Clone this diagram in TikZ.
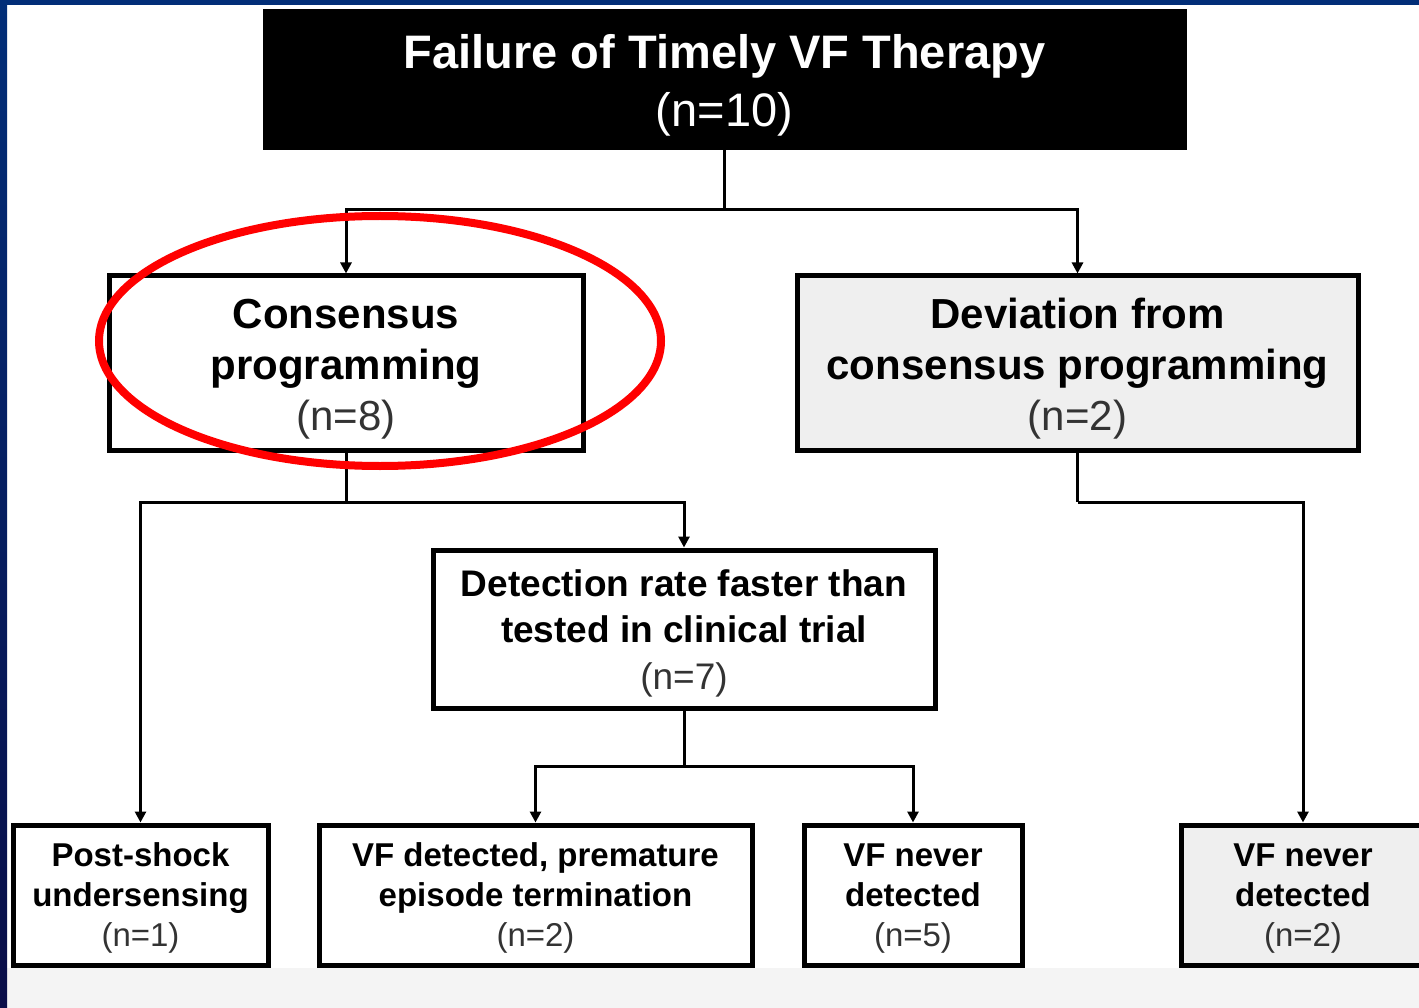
\documentclass[tikz,border=0pt]{standalone}
\usepackage{fontspec}
\setmainfont{Liberation Sans}
\usetikzlibrary{arrows.meta}
\definecolor{navy}{RGB}{2,46,120}
\definecolor{navydark}{RGB}{10,14,72}
\definecolor{boxgrey}{RGB}{239,239,239}
\definecolor{stripgrey}{RGB}{244,244,244}
\definecolor{ringred}{RGB}{255,0,0}
\newcommand\topstrut[1]{\rule{0pt}{#1pt}}
\begin{document}
\begin{tikzpicture}[x=1pt,y=-1pt,
  box/.style={draw=black,line width=5pt,fill=white,inner sep=0pt,align=center,text=black},
  greybox/.style={box,fill=boxgrey},
  fbig/.style={font=\fontsize{42}{51}\selectfont},
  fmid/.style={font=\fontsize{37}{46.5}\selectfont},
  fsmall/.style={font=\fontsize{33}{40}\selectfont},
  conn/.style={draw=black,line width=3pt},
  arr/.style={conn,-{Triangle[width=11pt,length=11pt]}}
]
\useasboundingbox (0,0) rectangle (1419,1008);
\fill[white] (0,0) rectangle (1419,1008);
\fill[stripgrey] (7,968) rectangle (1419,1008);
\shade[top color=navy,bottom color=navydark] (0,0) rectangle (7,1008);
\fill[navy] (0,0) rectangle (1419,5);

% boxes
\node[box,fill=black,text=white,minimum width=919pt,minimum height=136pt,
  font=\fontsize{47}{58}\selectfont] (top) at (724.5,80)
  {\topstrut{44}\textbf{Failure of Timely VF Therapy}\\(n=10)};
\node[box,fbig,minimum width=474pt,minimum height=174pt] (cons) at (346,363)
  {\topstrut{41}\textbf{Consensus}\\\textbf{programming}\\{\color{black!80}(n=8)}};
\node[greybox,fbig,minimum width=561pt,minimum height=174pt] (dev) at (1077.5,363)
  {\topstrut{41}\textbf{Deviation from}\\\textbf{consensus programming}\\{\color{black!80}(n=2)}};
\node[box,fmid,minimum width=502pt,minimum height=158pt] (det) at (684,629)
  {\topstrut{35}\textbf{Detection rate faster than}\\\textbf{tested in clinical trial}\\{\color{black!80}(n=7)}};
\node[box,fsmall,minimum width=255pt,minimum height=140pt] (post) at (140.5,895)
  {\topstrut{30}\textbf{Post-shock}\\\textbf{undersensing}\\{\color{black!80}(n=1)}};
\node[box,fsmall,minimum width=433pt,minimum height=140pt] (prem) at (535.5,895)
  {\topstrut{30}\textbf{VF detected, premature}\\\textbf{episode termination}\\{\color{black!80}(n=2)}};
\node[box,fsmall,minimum width=218pt,minimum height=140pt] (nev5) at (913,895)
  {\topstrut{30}\textbf{VF never}\\\textbf{detected}\\{\color{black!80}(n=5)}};
\node[greybox,fsmall,minimum width=244pt,minimum height=140pt] (nev2) at (1303,895)
  {\topstrut{30}\textbf{VF never}\\\textbf{detected}\\{\color{black!80}(n=2)}};

% connectors
\coordinate (j1) at (724.5,210);
\coordinate (j2) at (346,502);
\coordinate (j3) at (684,766);
\coordinate (j4) at (1077.5,502);
\draw[conn] (top.south) -- (j1);
\draw[arr] (j1) -| (cons.north);
\draw[arr] (j1) -| (dev.north);
\draw[conn] (cons.south) -- (j2);
\draw[arr] (j2) -| (post.north);
\draw[arr] (j2) -| (det.north);
\draw[conn] (det.south) -- (j3);
\draw[arr] (j3) -| (prem.north);
\draw[arr] (j3) -| (nev5.north);
\draw[conn] (dev.south) -- (j4);
\draw[arr] (j4) -| (nev2.north);

% red highlight ring
\draw[ringred,line width=8pt] (380,341) ellipse [x radius=281pt,y radius=125pt];
\end{tikzpicture}
\end{document}
